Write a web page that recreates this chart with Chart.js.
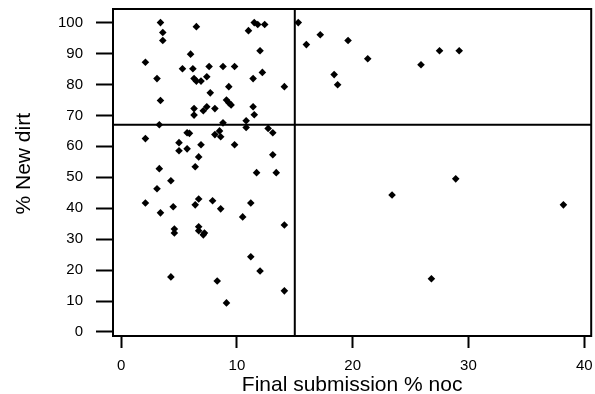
<!DOCTYPE html>
<html>
<head>
<meta charset="utf-8">
<script src="https://cdn.jsdelivr.net/npm/chart.js@4/dist/chart.umd.min.js"></script>
<style>
  html, body { margin: 0; padding: 0; background: #fff; }
  #wrap { width: 595px; height: 394px; }
</style>
</head>
<body>
<div id="wrap"><canvas id="scatter"></canvas></div>
<script>
// final submission % noc for each entry
const xValues = [
    3.4, 3.6, 3.6, 6.5, 11.5, 11.8, 12.4, 11.0, 15.3, 12.0,
    6.0, 2.1, 5.3, 6.2, 7.6, 8.8, 9.8, 12.2, 3.1, 6.3,
    6.5, 6.9, 7.4, 11.4, 9.3, 14.1, 7.7, 3.4, 9.1, 9.3,
    9.5, 6.3, 6.3, 7.1, 7.4, 8.1, 11.4, 11.5, 10.8, 8.8,
    17.2, 16.0, 19.6, 21.3, 27.5, 29.2, 25.9, 18.4, 18.7,
    3.3, 10.8, 12.7, 13.1, 5.7, 5.9, 8.5, 8.1, 8.6, 2.1,
    5.0, 5.0, 5.7, 6.9, 9.8, 13.1, 6.7, 6.4, 3.3, 11.7,
    13.4, 4.3, 3.1, 2.1, 3.4, 4.5, 6.4, 6.7, 7.9, 8.6,
    10.5, 11.2, 14.1, 4.6, 4.6, 6.7, 6.7, 7.1, 7.2, 11.2,
    12.0, 4.3, 8.3, 14.1, 9.1,
    28.9, 23.4, 38.2, 26.8
];

// % new dirt for the same entries
const yValues = [
    100, 96.8, 94.2, 98.7, 100, 99.4, 99.4, 97.4, 100, 90.9,
    89.8, 87.2, 85.1, 85.1, 85.8, 85.8, 85.8, 83.9, 81.9, 81.9,
    81.1, 81.1, 82.5, 81.9, 79.3, 79.3, 77.3, 74.8, 75.0, 74.1,
    73.4, 72.2, 70.1, 71.5, 72.8, 72.2, 72.8, 70.2, 68.3, 67.6,
    96.1, 92.9, 94.2, 88.3, 90.9, 90.9, 86.4, 83.2, 79.9,
    67.0, 66.1, 65.8, 64.4, 64.4, 64.2, 65.0, 63.8, 63.1, 62.5,
    61.2, 58.6, 59.2, 60.5, 60.5, 57.3, 56.6, 53.4, 52.8, 51.5,
    51.5, 48.9, 46.3, 41.7, 38.5, 40.5, 41.1, 43.0, 42.4, 39.8,
    37.2, 41.7, 34.6, 33.3, 32.0, 34.0, 32.7, 31.4, 32.0, 24.3,
    19.7, 17.8, 16.5, 13.3, 9.4,
    49.5, 44.3, 41.1, 17.2
];

const xTicks = [0, 10, 20, 30, 40];
const yTicks = [0, 10, 20, 30, 40, 50, 60, 70, 80, 90, 100];

// cut-off lines splitting the plot into quadrants
const refX = 15;
const refY = 67;

const points = xValues.map((x, i) => ({ x: x, y: yValues[i] }));

const fontFamily = '"Liberation Sans", Arial, sans-serif';

// fixed axis box sizes, no extra room for edge labels
function fixBox(size) {
    return (scale) => {
        if (scale.isHorizontal()) scale.height = size; else scale.width = size;
        scale.paddingTop = 0;
        scale.paddingBottom = 0;
        scale.paddingLeft = 0;
        scale.paddingRight = 0;
    };
}

// box around the plot area plus the two cut-off lines
const quadrantLines = {
    id: 'quadrantLines',
    afterDatasetsDraw(chart) {
        const { ctx, chartArea, scales } = chart;
        const px = scales.x.getPixelForValue(refX);
        const py = scales.y.getPixelForValue(refY);
        ctx.save();
        ctx.strokeStyle = '#000';
        ctx.lineWidth = 2;
        ctx.beginPath();
        ctx.moveTo(px, chartArea.top);
        ctx.lineTo(px, chartArea.bottom);
        ctx.moveTo(chartArea.left, py);
        ctx.lineTo(chartArea.right, py);
        ctx.stroke();
        ctx.strokeRect(chartArea.left, chartArea.top,
            chartArea.right - chartArea.left, chartArea.bottom - chartArea.top);
        ctx.restore();
    }
};

new Chart(document.getElementById('scatter'), {
    type: 'scatter',
    data: {
        datasets: [{
            data: points,
            pointStyle: 'rectRot',
            pointRadius: 3.8,
            pointHoverRadius: 3.8,
            backgroundColor: '#000',
            borderColor: '#000',
            borderWidth: 0
        }]
    },
    options: {
        responsive: true,
        maintainAspectRatio: false,
        animation: false,
        events: [],
        layout: { padding: { top: 9, right: 2, left: 0, bottom: 0 } },
        plugins: {
            legend: { display: false },
            tooltip: { enabled: false }
        },
        scales: {
            x: {
                type: 'linear',
                min: -0.7,
                max: 40.6,
                afterBuildTicks: (scale) => { scale.ticks = xTicks.map(v => ({ value: v })); },
                afterFit: fixBox(58),
                grid: {
                    drawOnChartArea: false,
                    drawTicks: true,
                    tickLength: 12,
                    tickWidth: 2,
                    tickColor: '#000'
                },
                border: { display: false },
                ticks: {
                    color: '#000',
                    padding: 9,
                    maxRotation: 0,
                    font: { family: fontFamily, size: 15 }
                },
                title: {
                    display: true,
                    text: 'Final submission % noc',
                    color: '#000',
                    padding: { top: 0, bottom: -2 },
                    font: { family: fontFamily, size: 21, lineHeight: 1 }
                }
            },
            y: {
                type: 'linear',
                min: -1.3,
                max: 104.4,
                afterBuildTicks: (scale) => { scale.ticks = yTicks.map(v => ({ value: v })); },
                afterFit: fixBox(113),
                grid: {
                    drawOnChartArea: false,
                    drawTicks: true,
                    tickLength: 17,
                    tickWidth: 2,
                    tickColor: '#000'
                },
                border: { display: false },
                ticks: {
                    color: '#000',
                    padding: 13,
                    font: { family: fontFamily, size: 15 }
                },
                title: {
                    display: true,
                    text: '   % New dirt',
                    color: '#000',
                    padding: { top: 12, bottom: 0 },
                    font: { family: fontFamily, size: 21 }
                }
            }
        }
    },
    plugins: [quadrantLines]
});
</script>
</body>
</html>
